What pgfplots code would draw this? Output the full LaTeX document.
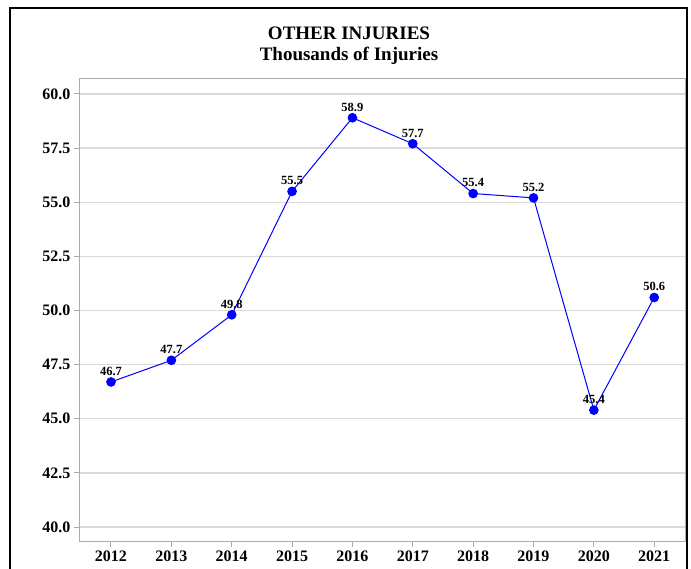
\documentclass[border=0pt]{standalone}
\usepackage{fontspec}
\setmainfont{Liberation Serif}
\usepackage{pgfplots}
\pgfplotsset{compat=1.18}
\definecolor{axisgray}{RGB}{165,172,178}
\definecolor{gridgray}{RGB}{218,218,218}
\begin{document}
\begin{tikzpicture}[x=1bp,y=1bp]
\useasboundingbox (0,0) rectangle (691,569);
\begin{scope}
\clip (0,0) rectangle (691,569);
\draw[line width=2bp, black] (10,-20) rectangle (687,561);
\end{scope}
\node[anchor=base, inner sep=0pt, font=\fontsize{19bp}{21bp}\selectfont\bfseries] at (349,529) {OTHER INJURIES};
\node[anchor=base, inner sep=0pt, font=\fontsize{19bp}{21bp}\selectfont\bfseries] at (349,508) {Thousands of Injuries};
\begin{axis}[
  at={(79bp,27bp)}, anchor=south west,
  scale only axis, width=606bp, height=463bp,
  xmin=2011.47, xmax=2021.51, ymin=39.31, ymax=60.69,
  xtick={2012,...,2021},
  ytick={40,42.5,...,60},
  xticklabel style={/pgf/number format/1000 sep={}},
  yticklabel style={/pgf/number format/.cd, fixed, fixed zerofill, precision=1},
  /pgf/number format/assume math mode=true,
  ticklabel style={font=\fontsize{16bp}{18bp}\selectfont\bfseries},
  axis line style={axisgray, line width=1bp},
  tick style={axisgray, line width=1bp},
  tick align=outside, major tick length=5bp,
  xtick pos=bottom, ytick pos=left,
  ymajorgrids, major grid style={gridgray, line width=1.2bp},
  nodes near coords,
  point meta=explicit symbolic,
  every node near coord/.append style={font=\fontsize{12.5bp}{14bp}\selectfont\bfseries, anchor=south, inner sep=0pt, yshift=6bp, black},
]
\addplot[blue, line width=1bp, mark=*, mark size=4.3bp, mark options={fill=blue, draw=blue}] table[meta=label] {
x y label
2012 46.7 46.7
2013 47.7 47.7
2014 49.8 49.8
2015 55.5 55.5
2016 58.9 58.9
2017 57.7 57.7
2018 55.4 55.4
2019 55.2 55.2
2020 45.4 45.4
2021 50.6 50.6
};
\end{axis}
\end{tikzpicture}
\end{document}
